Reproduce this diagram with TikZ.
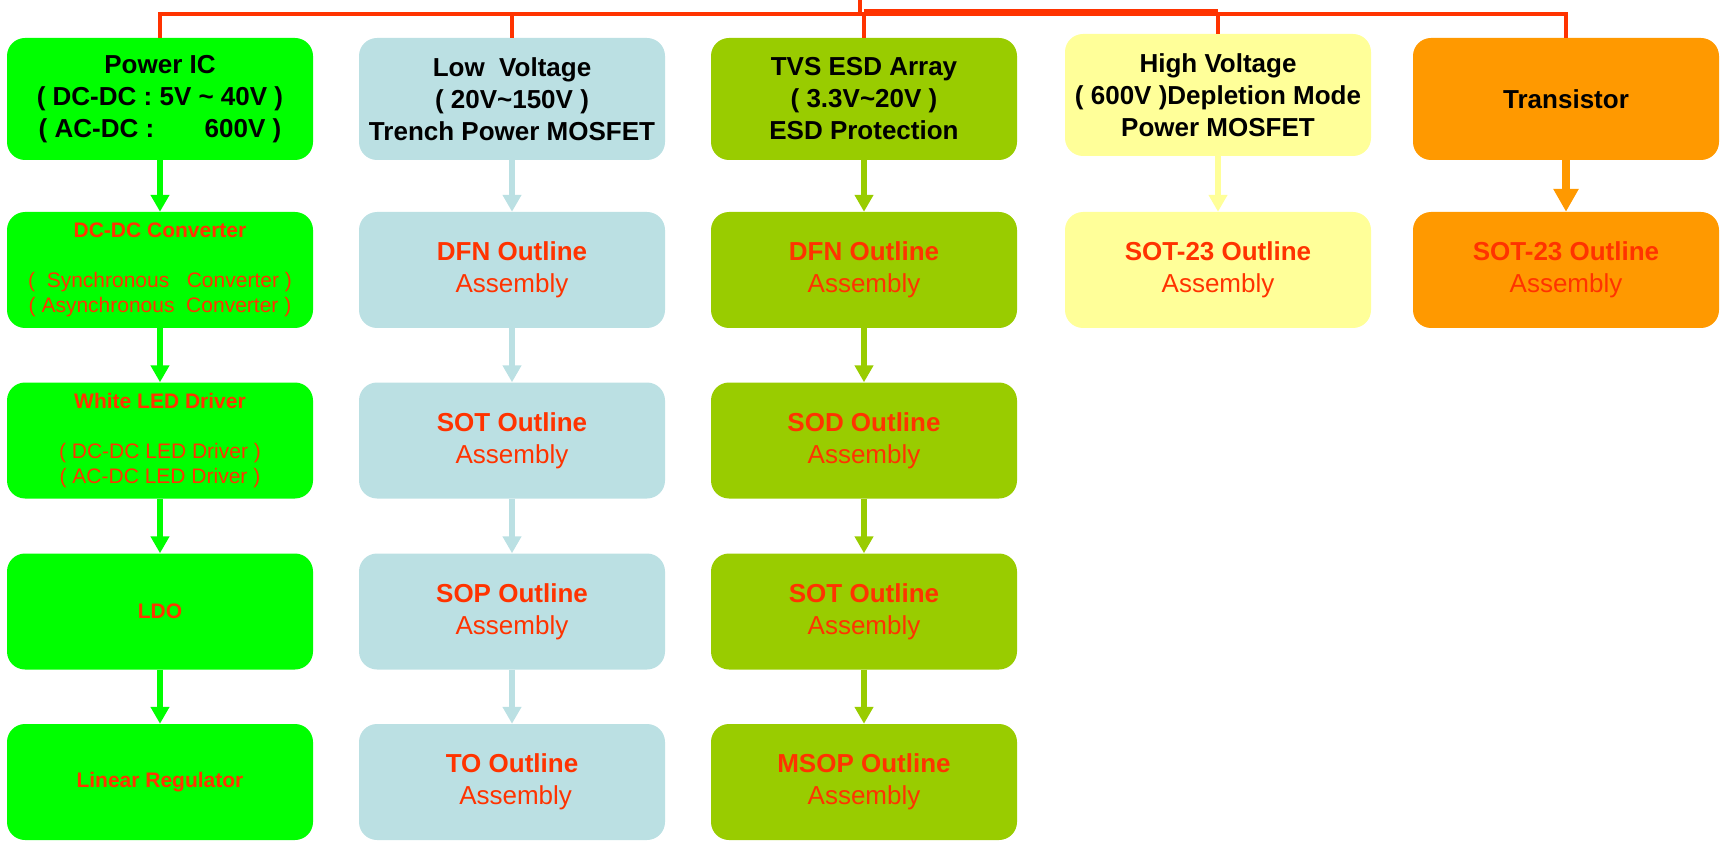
\documentclass[tikz,border=0pt]{standalone}
\usepackage{fontspec}
\setmainfont{Liberation Sans}
\usepackage{tikz}
\usetikzlibrary{arrows.meta}

\definecolor{icgreen}{HTML}{00FF00}
\definecolor{lvblue}{HTML}{BBE0E3}
\definecolor{tvsolive}{HTML}{99CC00}
\definecolor{hvyellow}{HTML}{FFFF99}
\definecolor{trorange}{HTML}{FF9900}
\definecolor{linered}{HTML}{FF3300}

\begin{document}
\begin{tikzpicture}[x=1pt, y=-1pt,
    box/.style={rectangle, rounded corners=18pt, minimum width=306pt, minimum height=116pt, inner sep=0pt, align=center},
    head/.style={box, minimum height=122pt, font=\bfseries\fontsize{26}{32}\selectfont},
    part/.style={box, text=linered, font=\fontsize{26}{32}\selectfont},
    ic/.style={box, fill=icgreen, text=linered, font=\fontsize{21}{25.3}\selectfont},
    flow/.style={line width=6pt, -{Triangle[length=17pt, width=18pt]}},
    bus/.style={linered, line width=4.5pt}]
  \useasboundingbox (0,0) rectangle (1722,842);

  % top row
  \draw (160,99) node[head, fill=icgreen] (power) {Power IC\\( DC-DC : 5V \textasciitilde{} 40V )\\( AC-DC : \hspace{36pt} 600V )};
  \draw (512,99) node[head, fill=lvblue] (lowv) {Low\ \ Voltage\\( 20V\textasciitilde150V )\\Trench Power MOSFET};
  \draw (864,99) node[head, fill=tvsolive] (tvs) {TVS ESD Array\\( 3.3V\textasciitilde20V )\\ESD Protection};
  \draw (1218,95) node[head, fill=hvyellow] (hv) {High Voltage\\( 600V )Depletion Mode\\Power MOSFET};
  \draw (1566,99) node[head, fill=trorange] (trans) {Transistor};

  % power ic column
  \draw (160,270) node[ic] (dcdc) {{\bfseries DC-DC Converter}\\[25pt](\ \ Synchronous\ \ \ Converter )\\( Asynchronous\ \ Converter )};
  \draw (160,440.5) node[ic] (wled) {{\bfseries White LED Driver}\\[25pt]( DC-DC LED Driver )\\( AC-DC LED Driver )};
  \draw (160,611.5) node[ic, font=\bfseries\fontsize{21}{25.3}\selectfont] (ldo) {LDO};
  \draw (160,782) node[ic, font=\bfseries\fontsize{21}{25.3}\selectfont] (linreg) {Linear Regulator};

  % low voltage column
  \draw (512,270) node[part, fill=lvblue] (ldfn) {{\bfseries DFN Outline}\\Assembly};
  \draw (512,440.5) node[part, fill=lvblue] (lsot) {{\bfseries SOT Outline}\\Assembly};
  \draw (512,611.5) node[part, fill=lvblue] (lsop) {{\bfseries SOP Outline}\\Assembly};
  \draw (512,782) node[part, fill=lvblue] (lto) {{\bfseries TO Outline}\\\ Assembly};

  % tvs column
  \draw (864,270) node[part, fill=tvsolive] (tdfn) {{\bfseries DFN Outline}\\Assembly};
  \draw (864,440.5) node[part, fill=tvsolive] (tsod) {{\bfseries SOD Outline}\\Assembly};
  \draw (864,611.5) node[part, fill=tvsolive] (tsot) {{\bfseries SOT Outline}\\Assembly};
  \draw (864,782) node[part, fill=tvsolive] (tmsop) {{\bfseries MSOP Outline}\\Assembly};

  % high voltage and transistor
  \draw (1218,270) node[part, fill=hvyellow] (hsot) {{\bfseries SOT-23 Outline}\\Assembly};
  \draw (1566,270) node[part, fill=trorange] (rsot) {{\bfseries SOT-23 Outline}\\Assembly};

  % red tree on top
  \coordinate (root) at (860,0);
  \coordinate (bus) at (860,14);
  \coordinate (busup) at (860,11.5);
  \draw[bus] (root) -- (bus);
  \draw[bus] (power.north) -- (power.north |- bus) -- (trans.north |- bus) -- (trans.north);
  \draw[bus] (tvs.north |- busup) -- (hv.north |- busup);
  \draw[bus] (lowv.north) -- (lowv.north |- bus);
  \draw[bus] (tvs.north) -- (tvs.north |- bus);
  \draw[bus] (hv.north) -- (hv.north |- bus);

  % arrows
  \draw[flow, icgreen] (power.south) -- (dcdc.north);
  \draw[flow, icgreen] (dcdc.south) -- (wled.north);
  \draw[flow, icgreen] (wled.south) -- (ldo.north);
  \draw[flow, icgreen] (ldo.south) -- (linreg.north);
  \draw[flow, lvblue] (lowv.south) -- (ldfn.north);
  \draw[flow, lvblue] (ldfn.south) -- (lsot.north);
  \draw[flow, lvblue] (lsot.south) -- (lsop.north);
  \draw[flow, lvblue] (lsop.south) -- (lto.north);
  \draw[flow, tvsolive] (tvs.south) -- (tdfn.north);
  \draw[flow, tvsolive] (tdfn.south) -- (tsod.north);
  \draw[flow, tvsolive] (tsod.south) -- (tsot.north);
  \draw[flow, tvsolive] (tsot.south) -- (tmsop.north);
  \draw[flow, hvyellow] (hv.south) -- (hsot.north);
  \draw[flow, trorange, line width=8pt, -{Triangle[length=23pt, width=24pt]}] (trans.south) -- (rsot.north);
\end{tikzpicture}
\end{document}
